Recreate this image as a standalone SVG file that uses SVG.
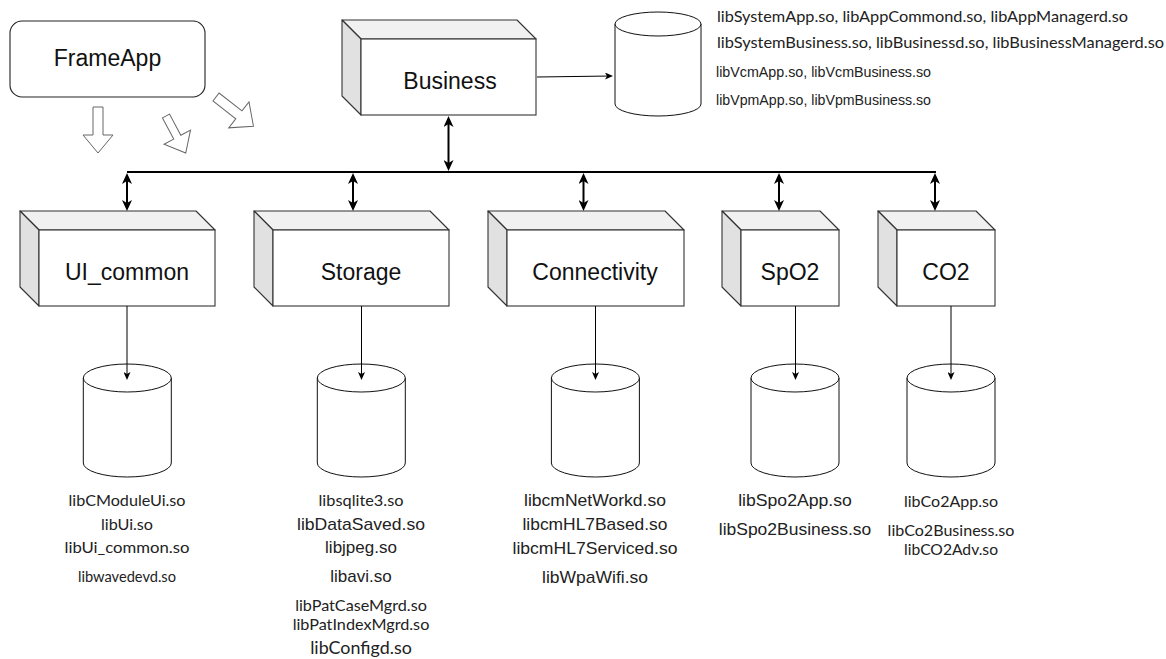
<svg xmlns="http://www.w3.org/2000/svg" width="1166" height="659" viewBox="0 0 1166 659">
<style>
.bg{fill:#fff}
.front{fill:#fff;stroke:#333;stroke-width:1.1}
.top{fill:#f1f1f1;stroke:#333;stroke-width:1.1;stroke-linejoin:round}
.side{fill:#e1e1e1;stroke:#333;stroke-width:1.1;stroke-linejoin:round}
.cyl{fill:#fff;stroke:#111;stroke-width:1}
.hollow{fill:#fff;stroke:#666;stroke-width:1}
.lbl{font-family:"Liberation Sans",Arial,sans-serif;font-size:23px;fill:#111;text-anchor:middle}
.ar{font-family:"Liberation Sans",Arial,sans-serif;font-size:17px;fill:#222;text-anchor:middle}
.cb{font-family:Lato,"Liberation Sans",sans-serif;font-size:16px;fill:#222;text-anchor:middle}
.lt{font-family:Lato,"Liberation Sans",sans-serif;font-size:16px;fill:#222}
.ars{font-family:"Liberation Sans",Arial,sans-serif;font-size:14px;fill:#222}
.bus{stroke:#000;stroke-width:2;fill:none}
.thin{stroke:#000;stroke-width:1;fill:none}
</style>
<defs>
<marker id="ah" viewBox="0 0 11 10" refX="8" refY="5" markerWidth="11" markerHeight="10" markerUnits="userSpaceOnUse" orient="auto-start-reverse">
<path d="M0,0 L11,5 L0,10 L3,5 Z" fill="#000"/>
</marker>
<marker id="sa" viewBox="0 0 8 7" refX="6" refY="3.5" markerWidth="8" markerHeight="7" markerUnits="userSpaceOnUse" orient="auto">
<path d="M0,0 L8,3.5 L0,7 L2,3.5 Z" fill="#000"/>
</marker>
</defs>
<rect class="bg" x="0" y="0" width="1166" height="659"/>

<g id="hollow-arrows">
<polygon class="hollow" points="-5,0 5,0 5,28 15,28 0,46 -15,28 -5,28" transform="translate(98,107)"/>
<polygon class="hollow" points="-4,0 4,0 4,24 15,24 0,42 -15,24 -4,24" transform="translate(166,116) rotate(-28)"/>
<polygon class="hollow" points="-5,0 5,0 5,29 16.5,29 0,47.5 -16.5,29 -5,29" transform="translate(216,97) rotate(-52)"/>
</g>

<g id="frameapp">
<rect x="10" y="21" width="195" height="76" rx="12" ry="12" fill="#fff" stroke="#222" stroke-width="1.1"/>
<text class="lbl" x="107.5" y="66">FrameApp</text>
</g>

<g id="business">
<polygon class="top" points="342,20 517,20 536,39 361,39"/>
<polygon class="side" points="342,20 361,39 361,115 342,96"/>
<rect class="front" x="361" y="39" width="175" height="76"/>
<text class="lbl" x="450" y="89">Business</text>
</g>

<g id="business-libs">
<path class="cyl" d="M615,24 L615,104 A43,12 0 0 0 701,104 L701,24 A43,12 0 0 0 615,24 Z"/>
<path class="cyl" d="M615,24 A43,12 0 0 0 701,24" fill="none"/>
<text class="lt" x="717" y="21.5" textLength="411" lengthAdjust="spacingAndGlyphs">libSystemApp.so, libAppCommond.so, libAppManagerd.so</text>
<text class="lt" x="717" y="48" textLength="447" lengthAdjust="spacingAndGlyphs">libSystemBusiness.so, libBusinessd.so, libBusinessManagerd.so</text>
<text class="ars" x="716" y="76.5" textLength="215" lengthAdjust="spacingAndGlyphs">libVcmApp.so, libVcmBusiness.so</text>
<text class="ars" x="716" y="105" textLength="215" lengthAdjust="spacingAndGlyphs">libVpmApp.so, libVpmBusiness.so</text>
</g>

<g id="ui-common">
<polygon class="top" points="20,211 196,211 215,230 39,230"/>
<polygon class="side" points="20,211 39,230 39,306 20,287"/>
<rect class="front" x="39" y="230" width="176" height="76"/>
<text class="lbl" x="127" y="280">UI_common</text>
</g>
<g id="ui-common-libs">
<path class="cyl" d="M83.3,378 L83.3,463 A44,14 0 0 0 171.3,463 L171.3,378 A44,14 0 0 0 83.3,378 Z"/>
<path class="cyl" d="M83.3,378 A44,14 0 0 0 171.3,378" fill="none"/>
<text class="cb" x="127" y="506" textLength="117" lengthAdjust="spacingAndGlyphs">libCModuleUi.so</text>
<text class="cb" x="127" y="530" textLength="52" lengthAdjust="spacingAndGlyphs">libUi.so</text>
<text class="cb" x="127" y="553" textLength="125" lengthAdjust="spacingAndGlyphs">libUi_common.so</text>
<text class="cb" x="127" y="582" style="font-size:14.5px" textLength="98" lengthAdjust="spacingAndGlyphs">libwavedevd.so</text>
</g>

<g id="storage">
<polygon class="top" points="254,211 430,211 449,230 273,230"/>
<polygon class="side" points="254,211 273,230 273,306 254,287"/>
<rect class="front" x="273" y="230" width="176" height="76"/>
<text class="lbl" x="361" y="280">Storage</text>
</g>
<g id="storage-libs">
<path class="cyl" d="M317.3,378 L317.3,463 A44,14 0 0 0 405.3,463 L405.3,378 A44,14 0 0 0 317.3,378 Z"/>
<path class="cyl" d="M317.3,378 A44,14 0 0 0 405.3,378" fill="none"/>
<text class="cb" x="361" y="506" textLength="85" lengthAdjust="spacingAndGlyphs">libsqlite3.so</text>
<text class="ar" x="361" y="529.5" textLength="128" lengthAdjust="spacingAndGlyphs">libDataSaved.so</text>
<text class="ar" x="361" y="552.5">libjpeg.so</text>
<text class="ar" x="361" y="582">libavi.so</text>
<text class="cb" x="361" y="611" textLength="131.7" lengthAdjust="spacingAndGlyphs">libPatCaseMgrd.so</text>
<text class="cb" x="361" y="630" textLength="136.7" lengthAdjust="spacingAndGlyphs">libPatIndexMgrd.so</text>
<text class="cb" x="361" y="654" style="font-size:16.5px" textLength="101.7" lengthAdjust="spacingAndGlyphs">libConfigd.so</text>
</g>

<g id="connectivity">
<polygon class="top" points="488,211 665,211 684,230 507,230"/>
<polygon class="side" points="488,211 507,230 507,306 488,287"/>
<rect class="front" x="507" y="230" width="177" height="76"/>
<text class="lbl" x="595" y="280">Connectivity</text>
</g>
<g id="connectivity-libs">
<path class="cyl" d="M551.4,378 L551.4,463 A44,14 0 0 0 639.4,463 L639.4,378 A44,14 0 0 0 551.4,378 Z"/>
<path class="cyl" d="M551.4,378 A44,14 0 0 0 639.4,378" fill="none"/>
<text class="ar" x="595" y="506" textLength="142" lengthAdjust="spacingAndGlyphs">libcmNetWorkd.so</text>
<text class="ar" x="595" y="530" textLength="145" lengthAdjust="spacingAndGlyphs">libcmHL7Based.so</text>
<text class="ar" x="595" y="554" textLength="165" lengthAdjust="spacingAndGlyphs">libcmHL7Serviced.so</text>
<text class="ar" x="595" y="582.5" textLength="106" lengthAdjust="spacingAndGlyphs">libWpaWifi.so</text>
</g>

<g id="spo2">
<polygon class="top" points="722,211 820,211 839,230 741,230"/>
<polygon class="side" points="722,211 741,230 741,306 722,287"/>
<rect class="front" x="741" y="230" width="98" height="76"/>
<text class="lbl" x="790" y="280">SpO2</text>
</g>
<g id="spo2-libs">
<path class="cyl" d="M751,378 L751,463 A44,14 0 0 0 839,463 L839,378 A44,14 0 0 0 751,378 Z"/>
<path class="cyl" d="M751,378 A44,14 0 0 0 839,378" fill="none"/>
<text class="ar" x="795" y="505.5" textLength="113.6" lengthAdjust="spacingAndGlyphs">libSpo2App.so</text>
<text class="ar" x="795" y="535" textLength="152.5" lengthAdjust="spacingAndGlyphs">libSpo2Business.so</text>
</g>

<g id="co2">
<polygon class="top" points="878,211 976,211 995,230 897,230"/>
<polygon class="side" points="878,211 897,230 897,306 878,287"/>
<rect class="front" x="897" y="230" width="98" height="76"/>
<text class="lbl" x="946" y="280">CO2</text>
</g>
<g id="co2-libs">
<path class="cyl" d="M907,378 L907,463 A44,14 0 0 0 995,463 L995,378 A44,14 0 0 0 907,378 Z"/>
<path class="cyl" d="M907,378 A44,14 0 0 0 995,378" fill="none"/>
<text class="cb" x="951" y="506.5" textLength="94" lengthAdjust="spacingAndGlyphs">libCo2App.so</text>
<text class="cb" x="951" y="535.5" textLength="126.8" lengthAdjust="spacingAndGlyphs">libCo2Business.so</text>
<text class="cb" x="951" y="554.5" textLength="94" lengthAdjust="spacingAndGlyphs">libCO2Adv.so</text>
</g>

<g id="connectors">
<line class="bus" x1="127" y1="172" x2="936" y2="172"/>
<line class="bus" x1="448.5" y1="119" x2="448.5" y2="168" marker-start="url(#ah)" marker-end="url(#ah)"/>
<line class="bus" x1="127" y1="176" x2="127" y2="208" marker-start="url(#ah)" marker-end="url(#ah)"/>
<line class="bus" x1="353" y1="176" x2="353" y2="208" marker-start="url(#ah)" marker-end="url(#ah)"/>
<line class="bus" x1="583.5" y1="176" x2="583.5" y2="208" marker-start="url(#ah)" marker-end="url(#ah)"/>
<line class="bus" x1="779" y1="176" x2="779" y2="208" marker-start="url(#ah)" marker-end="url(#ah)"/>
<line class="bus" x1="935" y1="176" x2="935" y2="208" marker-start="url(#ah)" marker-end="url(#ah)"/>
<line class="thin" x1="537" y1="77" x2="611" y2="76" marker-end="url(#sa)"/>
<line class="thin" x1="127" y1="306" x2="127" y2="378" marker-end="url(#sa)"/>
<line class="thin" x1="361.5" y1="306" x2="361.5" y2="378" marker-end="url(#sa)"/>
<line class="thin" x1="595.5" y1="306" x2="595.5" y2="378" marker-end="url(#sa)"/>
<line class="thin" x1="795.5" y1="306" x2="795.5" y2="378" marker-end="url(#sa)"/>
<line class="thin" x1="951" y1="306" x2="951" y2="378" marker-end="url(#sa)"/>
</g>
</svg>
